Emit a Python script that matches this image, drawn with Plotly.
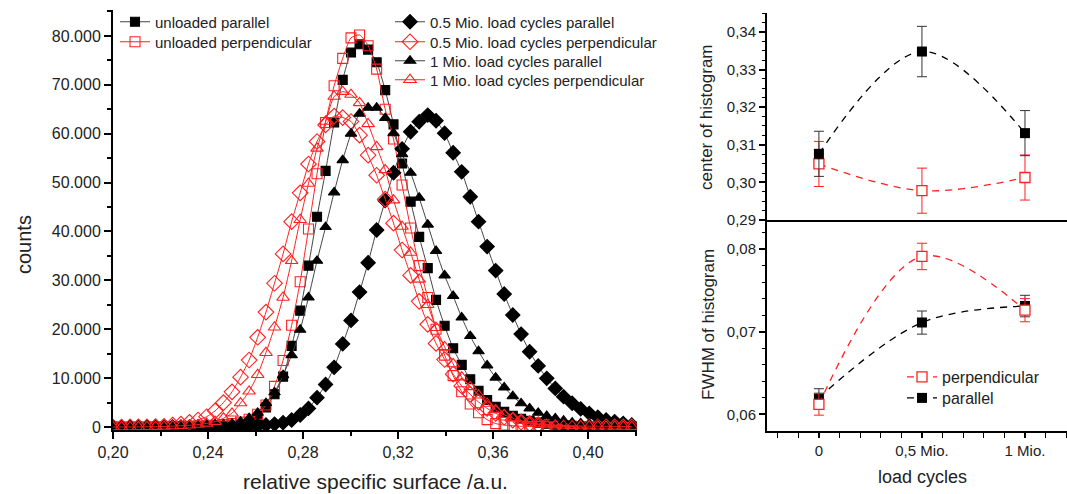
import plotly.graph_objects as go

# ---------------- data: left histogram ----------------
SURFACE = [0.2000, 0.2036, 0.2072, 0.2107, 0.2143, 0.2179, 0.2215, 0.2251, 0.2286, 0.2322,
           0.2358, 0.2394, 0.2430, 0.2465, 0.2501, 0.2537, 0.2573, 0.2609, 0.2644, 0.2680,
           0.2716, 0.2752, 0.2788, 0.2823, 0.2859, 0.2895, 0.2931, 0.2967, 0.3002, 0.3038,
           0.3074, 0.3110, 0.3146, 0.3181, 0.3217, 0.3253, 0.3289, 0.3325, 0.3360, 0.3396,
           0.3432, 0.3468, 0.3504, 0.3539, 0.3575, 0.3611, 0.3647, 0.3683, 0.3718, 0.3754,
           0.3790, 0.3826, 0.3862, 0.3897, 0.3933, 0.3969, 0.4005, 0.4041, 0.4076, 0.4112,
           0.4148, 0.4184]

unloaded_parallel = [0, 0, 0, 0, 0, 0, 0, 0, 0, 50, 60, 80,
                     100, 200, 300, 500, 900, 1800, 4000, 6700, 10300, 16600, 23800, 33000,
                     43000, 52400, 62300, 71000, 76600, 78300, 77200, 74600, 68900, 61900,
                     53900, 46100, 38900, 32500, 26000, 20700, 16100, 12700, 9760, 7430, 5520,
                     4150, 3100, 2300, 1700, 1250, 900, 650, 480, 350, 250, 180, 130, 100, 70,
                     50, 40, 30]
unloaded_perpendicular = [0, 0, 0, 0, 0, 0, 50, 80, 100, 150, 200,
                          250, 350, 500, 700, 1000, 1600, 2600, 4500, 8300, 13600, 20800, 29700,
                          40500, 51800, 62300, 69800, 75400, 79600, 80200, 78000, 73200, 65000,
                          58900, 49500, 40700, 33000, 26500, 20000, 14700, 10500, 7200, 4700,
                          2900, 1500, 700, 400, 250, 150, 100, 80, 60, 50, 40, 30, 20, 20, 10,
                          10, 10, 0, 0]
half_mio_parallel = [0, 0, 0, 0, 0, 0, 0, 0, 0, 0,
                     20, 30, 50, 70, 100, 130, 180, 250, 400, 600, 880, 1430, 2450, 3800,
                     6000, 8700, 12200, 17000, 21800, 27600, 33600, 40300, 46300, 52000,
                     56900, 60400, 62450, 63800, 62650, 60100, 56100, 52200, 47100, 42000,
                     36900, 32000, 27200, 22900, 19000, 15400, 12500, 9960, 7900, 6200, 4850,
                     3700, 2800, 2000, 1430, 1100, 750, 400]
half_mio_perpendicular = [0, 0, 20, 30, 50, 80, 150,
                          400, 600, 950, 1430, 2100, 3300, 5000, 7200, 10200, 13700, 18350,
                          23500, 29400, 35400, 42000, 47900, 53800, 58400, 61800, 63600, 63300,
                          62500, 59700, 55600, 51500, 46600, 41700, 36200, 31000, 25700, 21000,
                          17100, 13800, 10800, 8400, 6700, 5100, 3800, 2800, 2000, 1400, 1000,
                          700, 500, 350, 250, 180, 130, 100, 80, 60, 50, 40, 30, 20]
one_mio_parallel = [0, 0, 0, 0, 0, 0, 0, 50, 100, 150, 250,
                    300, 400, 500, 700, 1100, 1800, 2900, 4900, 7100, 10600, 14700, 19900,
                    26500, 34000, 40900, 48000, 54600, 60000, 64100, 65300, 65300, 63200,
                    60100, 55800, 52000, 46900, 41400, 36000, 31000, 26800, 22400, 18600,
                    15500, 12600, 10100, 8100, 6300, 4850, 3800, 2900, 2250, 1780, 1300, 900,
                    750, 550, 420, 350, 300, 250, 200]
one_mio_perpendicular = [0, 0, 0, 20, 50, 80, 120,
                         180, 250, 350, 500, 750, 1100, 1800, 2800, 4900, 7300, 10700, 15200,
                         20400, 26500, 34000, 42400, 49800, 57000, 62500, 67600, 68600, 68000,
                         66300, 62000, 57300, 52600, 46400, 41000, 35700, 30200, 25000, 20300,
                         16400, 12900, 10200, 8200, 6500, 4800, 3500, 2500, 1800, 1300, 900,
                         650, 500, 380, 300, 250, 200, 180, 160, 140, 120, 100, 80]

SERIES_NAMES = ["unloaded parallel", "unloaded perpendicular",
                "0.5 Mio. load cycles parallel", "0.5 Mio. load cycles perpendicular",
                "1 Mio. load cycles parallel", "1 Mio. load cycles perpendicular"]

X_TICKS = [0.20, 0.24, 0.28, 0.32, 0.36, 0.40]
X_TICK_TEXT = ["0,20", "0,24", "0,28", "0,32", "0,36", "0,40"]
X_MINOR = [0.22, 0.26, 0.30, 0.34, 0.38, 0.42]
Y_TICKS = [0, 10000, 20000, 30000, 40000, 50000, 60000, 70000, 80000]
Y_TICK_TEXT = ["0", "10.000", "20.000", "30.000", "40.000", "50.000", "60.000", "70.000", "80.000"]
Y_MINOR = [5000, 15000, 25000, 35000, 45000, 55000, 65000, 75000, 85000]

# ---------------- data: right panels ----------------
LOAD = [0, 0.5, 1]
LOAD_TICK_TEXT = ["0", "0,5 Mio.", "1 Mio."]
LOAD_MINOR = [-0.2, -0.1, 0.1, 0.2, 0.3, 0.4, 0.6, 0.7, 0.8, 0.9, 1.1, 1.2]
center_parallel = [0.3076, 0.3348, 0.3131]
center_parallel_err = [0.0060, 0.0067, 0.0060]
center_perpendicular = [0.3049, 0.2978, 0.3013]
center_perpendicular_err = [0.0060, 0.0060, 0.0060]
fwhm_parallel = [0.0620, 0.0711, 0.0731]
fwhm_parallel_err = [0.0011, 0.0014, 0.0013]
fwhm_perpendicular = [0.0612, 0.0791, 0.0726]
fwhm_perpendicular_err = [0.0013, 0.0016, 0.0014]
CENTER_TICKS = [0.29, 0.30, 0.31, 0.32, 0.33, 0.34]
CENTER_TICK_TEXT = ["0,29", "0,30", "0,31", "0,32", "0,33", "0,34"]
FWHM_TICKS = [0.06, 0.07, 0.08]
FWHM_TICK_TEXT = ["0,06", "0,07", "0,08"]

# ---------------- figure ----------------
W, H = 1067, 494
FONT = "Liberation Sans, Arial, sans-serif"
TXT = "#222222"
RED = "#ff2020"
GREY = "#444444"


def px(x):
    return x / W


def py(y):
    return 1 - y / H


fig = go.Figure()

left_series = [unloaded_parallel, unloaded_perpendicular, half_mio_parallel,
               half_mio_perpendicular, one_mio_parallel, one_mio_perpendicular]
styles = [
    dict(line=GREY, sym="square", mcol="black", size=9),
    dict(line=RED, sym="square-open", mcol=RED, size=10),
    dict(line=GREY, sym="diamond", mcol="black", size=11),
    dict(line=RED, sym="diamond-open", mcol=RED, size=12),
    dict(line=GREY, sym="triangle-up", mcol="black", size=10),
    dict(line=RED, sym="triangle-up-open", mcol=RED, size=11),
]
# legend item positions (text left edge x, centre y) in pixels
legend_pos = [(158, 22), (158, 42), (433, 22), (433, 42), (433, 61), (433, 80)]
legend_ids = ["legend", "legend2", "legend3", "legend4", "legend5", "legend6"]

for name, vals, st, lid in zip(SERIES_NAMES, left_series, styles, legend_ids):
    fig.add_trace(go.Scatter(
        x=SURFACE, y=vals, name=name, mode="lines+markers",
        line=dict(color=st["line"], width=1, shape="spline", smoothing=0.6),
        marker=dict(symbol=st["sym"], color=st["mcol"], size=st["size"],
                    line=dict(color=st["mcol"], width=1.1)),
        xaxis="x", yaxis="y", legend=lid))

# right top: center of histogram
fig.add_trace(go.Scatter(
    x=LOAD, y=center_perpendicular, mode="lines+markers", showlegend=False,
    line=dict(color=RED, width=1.3, dash="7px,6px", shape="spline"),
    marker=dict(symbol="square", color="white", size=10, line=dict(color=RED, width=1.3)),
    error_y=dict(type="data", array=center_perpendicular_err, color=RED, thickness=1, width=5),
    xaxis="x2", yaxis="y2"))
fig.add_trace(go.Scatter(
    x=LOAD, y=center_parallel, mode="lines+markers", showlegend=False,
    line=dict(color="black", width=1.3, dash="7px,6px", shape="spline"),
    marker=dict(symbol="square", color="black", size=10),
    error_y=dict(type="data", array=center_parallel_err, color="#333333", thickness=1, width=5),
    xaxis="x2", yaxis="y2"))

# right bottom: FWHM
fig.add_trace(go.Scatter(
    x=LOAD, y=fwhm_parallel, name="parallel", mode="lines+markers",
    line=dict(color="black", width=1.3, dash="7px,6px", shape="spline"),
    marker=dict(symbol="square", color="black", size=10),
    error_y=dict(type="data", array=fwhm_parallel_err, color="#333333", thickness=1, width=5),
    xaxis="x3", yaxis="y3", legend="legend8"))
fig.add_trace(go.Scatter(
    x=LOAD, y=fwhm_perpendicular, name="perpendicular", mode="lines+markers",
    line=dict(color=RED, width=1.3, dash="7px,6px", shape="spline"),
    marker=dict(symbol="square", color="white", size=10, line=dict(color=RED, width=1.3)),
    error_y=dict(type="data", array=fwhm_perpendicular_err, color=RED, thickness=1, width=5),
    xaxis="x3", yaxis="y3", legend="legend7"))

axis_common = dict(showgrid=False, zeroline=False, showline=True, linecolor="black",
                   linewidth=2, tickcolor="black", tickwidth=1.5, ticks="outside",
                   automargin=False,
                   tickfont=dict(family=FONT, size=16, color=TXT))
small_font = dict(family=FONT, size=15, color=TXT)

layout_legends = {}
for lid, (tx, ty) in zip(legend_ids, legend_pos):
    layout_legends[lid] = dict(x=px(tx - 43), y=py(ty), xanchor="left", yanchor="middle",
                               bgcolor="rgba(0,0,0,0)", font=dict(family=FONT, size=15, color=TXT),
                               itemwidth=30)
layout_legends["legend7"] = dict(x=px(945 - 43), y=py(377), xanchor="left", yanchor="middle",
                                 bgcolor="rgba(0,0,0,0)", font=dict(family=FONT, size=16, color=TXT),
                                 itemwidth=30)
layout_legends["legend8"] = dict(x=px(945 - 43), y=py(398), xanchor="left", yanchor="middle",
                                 bgcolor="rgba(0,0,0,0)", font=dict(family=FONT, size=16, color=TXT),
                                 itemwidth=30)

fig.update_layout(
    width=W, height=H, margin=dict(l=0, r=0, t=0, b=0, pad=0, autoexpand=False),
    paper_bgcolor="white", plot_bgcolor="white",
    font=dict(family=FONT, color=TXT),
    xaxis=dict(domain=[px(113), px(637)], range=[0.2, 0.4206], anchor="y",
               tickmode="array", tickvals=X_TICKS, ticktext=X_TICK_TEXT, ticklen=7,
               minor=dict(tickmode="array", tickvals=X_MINOR, ticks="outside", ticklen=4,
                          tickwidth=1.5, tickcolor="black"),
               **axis_common),
    yaxis=dict(domain=[py(430), py(10)], range=[-614, 85300], anchor="x",
               tickmode="array", tickvals=Y_TICKS, ticktext=Y_TICK_TEXT, ticklen=7,
               minor=dict(tickmode="array", tickvals=Y_MINOR, ticks="outside", ticklen=4,
                          tickwidth=1.5, tickcolor="black"),
               **axis_common),
    xaxis2=dict(domain=[px(767), 1.0], range=[-0.252, 1.204], anchor="y2",
                showgrid=False, zeroline=False, showline=True, linecolor="black",
                linewidth=2, ticks="", showticklabels=False, automargin=False),
    yaxis2=dict(domain=[py(220), py(13)], range=[0.29, 0.34505], anchor="x2",
                tickmode="array", tickvals=CENTER_TICKS, ticktext=CENTER_TICK_TEXT, ticklen=6,
                minor=dict(dtick=0.0025, tick0=0.29, ticks="outside", ticklen=3,
                           tickwidth=1.2, tickcolor="black"),
                **{**axis_common, "tickfont": small_font}),
    xaxis3=dict(domain=[px(767), 1.0], range=[-0.252, 1.204], anchor="y3",
                tickmode="array", tickvals=LOAD, ticktext=LOAD_TICK_TEXT, ticklen=5,
                minor=dict(tickmode="array", tickvals=LOAD_MINOR, ticks="outside", ticklen=5,
                           tickwidth=1.2, tickcolor="black"),
                **{**axis_common, "tickfont": small_font}),
    yaxis3=dict(domain=[py(430.7), py(220)], range=[0.05802, 0.08351], anchor="x3",
                tickmode="array", tickvals=FWHM_TICKS, ticktext=FWHM_TICK_TEXT, ticklen=6,
                minor=dict(dtick=0.002, tick0=0.06, ticks="outside", ticklen=3,
                           tickwidth=1.2, tickcolor="black"),
                **{**axis_common, "tickfont": small_font}),
    **layout_legends,
)

annotations = [
    dict(text="counts", x=px(24), y=py(245), textangle=-90, size=20),
    dict(text="relative specific surface /a.u.", x=px(375), y=py(481), textangle=0, size=21),
    dict(text="center of histogram", x=px(707), y=py(117), textangle=-90, size=17),
    dict(text="FWHM of histogram", x=px(708), y=py(325), textangle=-90, size=17),
    dict(text="load cycles", x=px(922), y=py(477), textangle=0, size=18),
]
for a in annotations:
    fig.add_annotation(text=a["text"], x=a["x"], y=a["y"], xref="paper", yref="paper",
                       xanchor="center", yanchor="middle", showarrow=False,
                       textangle=a["textangle"],
                       font=dict(family=FONT, size=a["size"], color=TXT))

fig.write_html(
    "out.html",
    config={"displayModeBar": False},
    post_script="document.body.style.margin='0px';document.body.style.overflow='hidden';",
)
